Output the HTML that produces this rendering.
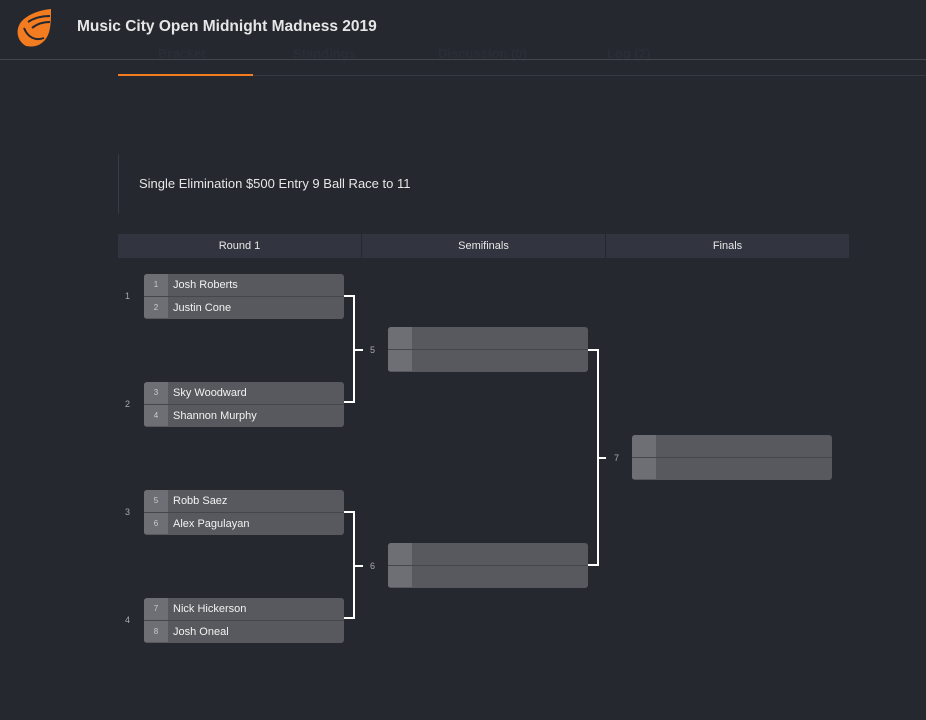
<!DOCTYPE html>
<html><head><meta charset="utf-8"><style>
*{margin:0;padding:0;box-sizing:border-box}
body{width:926px;height:720px;background:#262830;font-family:"Liberation Sans",sans-serif;position:relative;overflow:hidden;color:#ddd}
.a{position:absolute}
.title{left:77px;top:18px;font-size:15.5px;font-weight:bold;color:#e6e6e6}
.tab{top:46px;font-size:13px;color:#33363f;font-weight:bold}
.hcol{top:234px;height:24px;width:243px;background:#32353f;color:#e8e8e8;font-size:11px;text-align:center;line-height:25px}
.m{width:200px;height:45px;border-radius:3px;overflow:hidden;background:#58595e}
.r{height:22px;position:relative;font-size:11px;line-height:22px;color:#f2f2f2}
.r+.r{border-top:1px solid #45464b}
.s{position:absolute;left:0;top:0;width:24px;height:100%;background:#6e6f74;text-align:center;font-size:8px;color:#ccc}
.n{position:absolute;left:29px}
.num{font-size:9px;color:#aaa}
.v{background:#fff;width:2px}
.h{background:#fff;height:2px}
</style></head><body>
<div class="a tab" style="left:158px">Bracket</div>
<div class="a tab" style="left:293px">Standings</div>
<div class="a tab" style="left:438px">Discussion (0)</div>
<div class="a tab" style="left:607px">Log (2)</div>
<div class="a" style="left:0;top:0;width:926px;height:59px;background:#262830;opacity:.6"></div>
<svg class="a" style="left:14px;top:8px" width="40" height="40" viewBox="0 0 40 40">
<path d="M37 1 C26 2 14 6 7 14 C1 22 3 33 12 38 C22 40 30 36 34 27 C37 20 37 10 37 1Z" fill="#f47c20"/>
<path d="M10 20 C14 30 22 33 30 30" stroke="#262830" stroke-width="2" fill="none"/>
<path d="M14 14 C20 10 28 8 36 8 M18 20 C24 15 30 14 36 14" stroke="#262830" stroke-width="2" fill="none"/>
</svg>
<div class="a title">Music City Open Midnight Madness 2019</div>
<div class="a" style="left:0;top:59px;width:926px;height:1px;background:#44464e"></div>
<div class="a" style="left:118px;top:75px;width:808px;height:1px;background:#363942"></div>
<div class="a" style="left:118px;top:74px;width:135px;height:2px;background:#f47c20"></div>

<div class="a" style="left:118px;top:154px;width:1px;height:60px;background:#3a3c45"></div>
<div class="a" style="left:139px;top:176px;font-size:13px;color:#e6e6e6">Single Elimination $500 Entry 9 Ball Race to 11</div>

<div class="a hcol" style="left:118px">Round 1</div>
<div class="a hcol" style="left:362px">Semifinals</div>
<div class="a hcol" style="left:606px">Finals</div>

<div class="a num" style="left:125px;top:291px">1</div>
<div class="a m" style="left:144px;top:274px"><div class="r"><span class="s">1</span><span class="n">Josh Roberts</span></div><div class="r"><span class="s">2</span><span class="n">Justin Cone</span></div></div>
<div class="a num" style="left:125px;top:399px">2</div>
<div class="a m" style="left:144px;top:382px"><div class="r"><span class="s">3</span><span class="n">Sky Woodward</span></div><div class="r"><span class="s">4</span><span class="n">Shannon Murphy</span></div></div>
<div class="a num" style="left:125px;top:507px">3</div>
<div class="a m" style="left:144px;top:490px"><div class="r"><span class="s">5</span><span class="n">Robb Saez</span></div><div class="r"><span class="s">6</span><span class="n">Alex Pagulayan</span></div></div>
<div class="a num" style="left:125px;top:615px">4</div>
<div class="a m" style="left:144px;top:598px"><div class="r"><span class="s">7</span><span class="n">Nick Hickerson</span></div><div class="r"><span class="s">8</span><span class="n">Josh Oneal</span></div></div>

<div class="a m" style="left:388px;top:327px"><div class="r"><span class="s"></span></div><div class="r"><span class="s"></span></div></div>
<div class="a m" style="left:388px;top:543px"><div class="r"><span class="s"></span></div><div class="r"><span class="s"></span></div></div>
<div class="a m" style="left:632px;top:435px"><div class="r"><span class="s"></span></div><div class="r"><span class="s"></span></div></div>

<div class="a h" style="left:344px;top:295px;width:11px"></div>
<div class="a h" style="left:344px;top:401px;width:11px"></div>
<div class="a v" style="left:353px;top:295px;height:108px"></div>
<div class="a h" style="left:353px;top:349px;width:10px"></div>
<div class="a num" style="left:370px;top:345px">5</div>

<div class="a h" style="left:344px;top:511px;width:11px"></div>
<div class="a h" style="left:344px;top:617px;width:11px"></div>
<div class="a v" style="left:353px;top:511px;height:108px"></div>
<div class="a h" style="left:353px;top:565px;width:10px"></div>
<div class="a num" style="left:370px;top:561px">6</div>

<div class="a h" style="left:588px;top:349px;width:11px"></div>
<div class="a h" style="left:588px;top:564px;width:11px"></div>
<div class="a v" style="left:597px;top:349px;height:217px"></div>
<div class="a h" style="left:597px;top:457px;width:9px"></div>
<div class="a num" style="left:614px;top:453px">7</div>
</body></html>
